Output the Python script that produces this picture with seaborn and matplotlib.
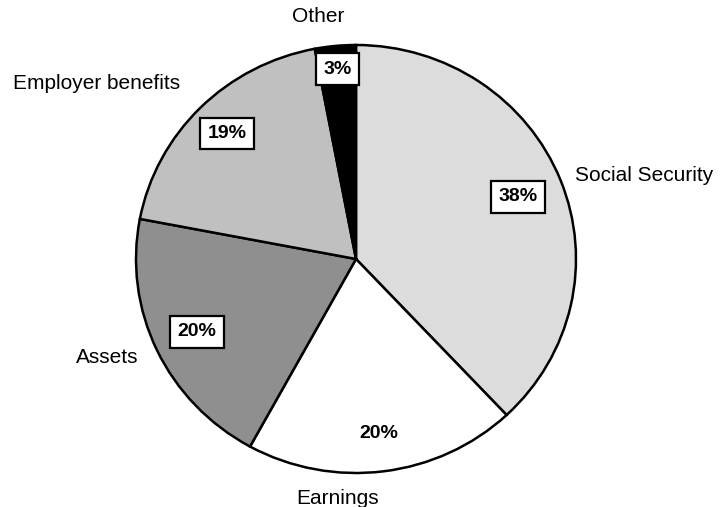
import numpy as np
import matplotlib
matplotlib.use("Agg")
import matplotlib.pyplot as plt
import seaborn as sns

# Income sources, share of total (%)
categories = ["Social Security", "Earnings", "Assets", "Employer benefits", "Other"]
shares = [38, 20, 20, 19, 3]
colors = ["#dcdcdc", "#ffffff", "#8f8f8f", "#c0c0c0", "#000000"]

sns.set_theme(style="white")
plt.rcParams["font.family"] = ["Liberation Sans", "DejaVu Sans"]

fig = plt.figure(figsize=(7.2, 5.07), dpi=100)
ax = fig.add_axes([0, 0, 1, 1])

wedges, _ = ax.pie(
    shares,
    colors=colors,
    startangle=90,
    counterclock=False,
    radius=1.0,
    wedgeprops=dict(edgecolor="black", linewidth=1.8),
)

# radial position of each percentage label, as a fraction of the radius
pct_radius = [0.79, 0.82, 0.80, 0.83, 0.89]
boxed = [True, False, True, True, True]

# category names placed around the pie
name_xy = [(0.995, 0.388), (-0.086, -1.121), (-0.991, -0.458),
           (-1.177, 0.818), (-0.173, 1.131)]
name_ha = ["left", "center", "right", "center", "center"]

for w, pct, r, bx, txt, (nx, ny), ha in zip(
    wedges, shares, pct_radius, boxed, categories, name_xy, name_ha
):
    mid = np.deg2rad((w.theta1 + w.theta2) / 2)
    x, y = r * np.cos(mid), r * np.sin(mid)
    bbox = dict(boxstyle="square,pad=0.38", facecolor="white",
                edgecolor="black", linewidth=1.6) if bx else None
    ax.text(x, y, f"{pct}%", ha="center", va="center", fontsize=14,
            fontweight="bold", bbox=bbox, color="black")
    ax.text(nx, ny, txt, ha=ha, va="center", fontsize=15, color="black")

ax.set_xlim(-356 / 220, (720 - 356) / 220)
ax.set_ylim(-(507 - 259) / 214, 259 / 214)
ax.set_aspect("auto")
ax.axis("off")

fig.savefig("out.png", dpi=100, facecolor="white")
